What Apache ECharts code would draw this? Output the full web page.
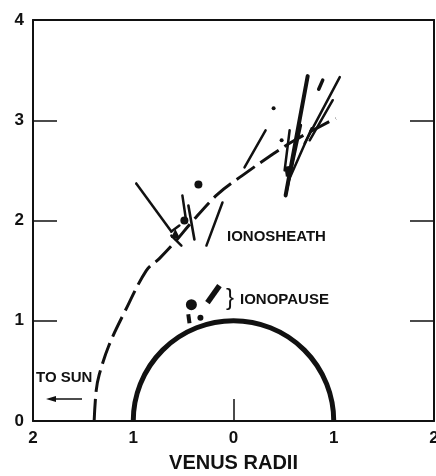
<!DOCTYPE html>
<html>
<head>
<meta charset="utf-8">
<script src="https://cdn.jsdelivr.net/npm/echarts@6/dist/echarts.min.js"></script>
<style>
  html, body { margin: 0; padding: 0; background: #fff; }
  #chart { width: 436px; height: 476px; }
</style>
</head>
<body>
<div id="chart"></div>
<script>
  // distances in Venus radii, x positive toward the sun (left)
  const xTicks = [-2, -1, 0, 1, 2]
  const yTicks = [0, 1, 2, 3, 4]

  const bowShock = [
    [1.39, 0], [1.37, 0.3], [1.34, 0.46], [1.24, 0.76], [1.09, 1.08],
    [0.87, 1.5], [0.74, 1.62], [0.58, 1.79], [0.42, 1.98], [0.16, 2.26],
    [-0.09, 2.45], [-0.39, 2.66], [-0.61, 2.8], [-1.02, 3.02]
  ]

  // field direction segments [x1, y1, x2, y2, width]
  const fieldSegments = [
    [0.97, 2.37, 0.62, 1.89, 2.5],
    [0.62, 1.89, 0.54, 1.95, 2.5],
    [0.51, 2.25, 0.47, 1.98, 2.5],
    [0.45, 2.15, 0.39, 1.81, 2.6],
    [0.11, 2.18, 0.27, 1.75, 2.5],
    [0.62, 1.85, 0.52, 1.75, 2.5],
    [-0.32, 2.9, -0.11, 2.53, 2.5],
    [-0.74, 3.44, -0.52, 2.25, 4],
    [-0.53, 2.3, -0.67, 2.95, 3],
    [-0.55, 2.4, -0.78, 2.92, 2.5],
    [-1.06, 3.43, -0.71, 2.77, 2.5],
    [-0.89, 3.4, -0.85, 3.31, 3.5],
    [-0.99, 3.2, -0.76, 2.8, 2.5],
    [-0.56, 2.9, -0.51, 2.5, 2.5]
  ]

  // ionopause crossing dash
  const ionopauseDash = [[0.26, 1.18, 0.14, 1.35, 5.5]]

  // dots [x, y, size]
  const dots = [
    [0.49, 2.0, 8], [0.35, 2.36, 8], [-0.4, 3.12, 4], [-0.48, 2.8, 4],
    [0.42, 1.16, 11], [0.33, 1.03, 6]
  ]
  const triangles = [[0.58, 1.87, 9]]
  const blocks = [[-0.54, 2.49, 5, 10], [0.445, 1.02, 4, 9]]

  const venus = [[0, 0, 1]]

  const font = 'Liberation Sans, Arial, sans-serif'
  const ink = '#111'

  const toLines = arr => arr.map(s => ({
    coords: [[s[0], s[1]], [s[2], s[3]]],
    lineStyle: { width: s[4] }
  }))

  const chart = echarts.init(document.getElementById('chart'))
  chart.setOption({
    animation: false,
    backgroundColor: '#fff',
    grid: { left: 33, right: 2, top: 20, bottom: 55, outerBoundsMode: 'none' },
    xAxis: [
      {
        type: 'value', min: -2, max: 2, interval: 1, inverse: true, position: 'bottom',
        axisLine: { onZero: false, lineStyle: { color: ink, width: 2 } },
        axisTick: { inside: true, length: 22, customValues: [0], lineStyle: { color: ink, width: 1.5 } },
        axisLabel: {
          customValues: xTicks, formatter: v => String(Math.abs(v)),
          color: ink, fontFamily: font, fontWeight: 'bold', fontSize: 17, margin: 9
        },
        splitLine: { show: false },
        name: 'VENUS RADII', nameLocation: 'middle', nameGap: 32,
        nameTextStyle: { color: ink, fontFamily: font, fontWeight: 'bold', fontSize: 20 }
      },
      {
        type: 'value', min: -2, max: 2, inverse: true, position: 'top',
        axisLine: { onZero: false, lineStyle: { color: ink, width: 2 } },
        axisTick: { show: false }, axisLabel: { show: false }, splitLine: { show: false }
      }
    ],
    yAxis: [
      {
        type: 'value', min: 0, max: 4, interval: 1, position: 'left',
        axisLine: { onZero: false, lineStyle: { color: ink, width: 2 } },
        axisTick: { inside: true, length: 24, customValues: [1, 2, 3], lineStyle: { color: ink, width: 1.5 } },
        axisLabel: {
          customValues: yTicks,
          color: ink, fontFamily: font, fontWeight: 'bold', fontSize: 17, margin: 9
        },
        splitLine: { show: false }
      },
      {
        type: 'value', min: 0, max: 4, interval: 1, position: 'right',
        axisLine: { onZero: false, lineStyle: { color: ink, width: 2 } },
        axisTick: { inside: true, length: 24, customValues: [1, 2, 3], lineStyle: { color: ink, width: 1.5 } },
        axisLabel: { show: false }, splitLine: { show: false }
      }
    ],
    series: [
      {
        type: 'custom',
        data: venus,
        renderItem: (params, api) => {
          const c = api.coord([api.value(0), api.value(1)])
          const r = api.size([api.value(2), api.value(2)])[0]
          return {
            type: 'arc',
            shape: { cx: c[0], cy: c[1], r: r, startAngle: Math.PI, endAngle: 2 * Math.PI },
            style: { stroke: ink, lineWidth: 5, fill: null }
          }
        }
      },
      {
        type: 'line',
        data: bowShock,
        smooth: 0.35,
        symbol: 'none',
        lineStyle: { color: ink, width: 3, type: [22, 7], cap: 'butt' }
      },
      {
        type: 'lines',
        coordinateSystem: 'cartesian2d',
        data: toLines(fieldSegments),
        lineStyle: { color: ink, opacity: 1, cap: 'round' }
      },
      {
        type: 'lines',
        coordinateSystem: 'cartesian2d',
        data: toLines(ionopauseDash),
        lineStyle: { color: ink, opacity: 1, cap: 'butt' }
      },
      {
        type: 'scatter',
        data: dots,
        symbol: 'circle',
        symbolSize: v => v[2],
        itemStyle: { color: ink, opacity: 1 }
      },
      {
        type: 'scatter',
        data: triangles,
        symbol: 'triangle',
        symbolSize: v => v[2],
        itemStyle: { color: ink, opacity: 1 }
      },
      {
        type: 'scatter',
        data: blocks,
        symbol: 'rect',
        symbolSize: v => [v[2], v[3]],
        symbolRotate: 8,
        itemStyle: { color: ink, opacity: 1 }
      }
    ],
    graphic: [
      {
        type: 'text', left: 227, top: 229,
        style: { text: 'IONOSHEATH', fill: ink, font: 'bold 15px ' + font }
      },
      {
        type: 'text', left: 240, top: 292,
        style: { text: 'IONOPAUSE', fill: ink, font: 'bold 15px ' + font }
      },
      {
        type: 'text', left: 226, top: 286,
        style: { text: '}', fill: ink, font: '24px ' + font }
      },
      {
        type: 'text', left: 36, top: 370,
        style: { text: 'TO SUN', fill: ink, font: 'bold 15px ' + font }
      },
      {
        type: 'line',
        shape: { x1: 54, y1: 399, x2: 82, y2: 399 },
        style: { stroke: ink, lineWidth: 1.5 }
      },
      {
        type: 'polygon',
        shape: { points: [[46, 399], [56, 396], [56, 402]] },
        style: { fill: ink }
      }
    ]
  })
</script>
</body>
</html>
